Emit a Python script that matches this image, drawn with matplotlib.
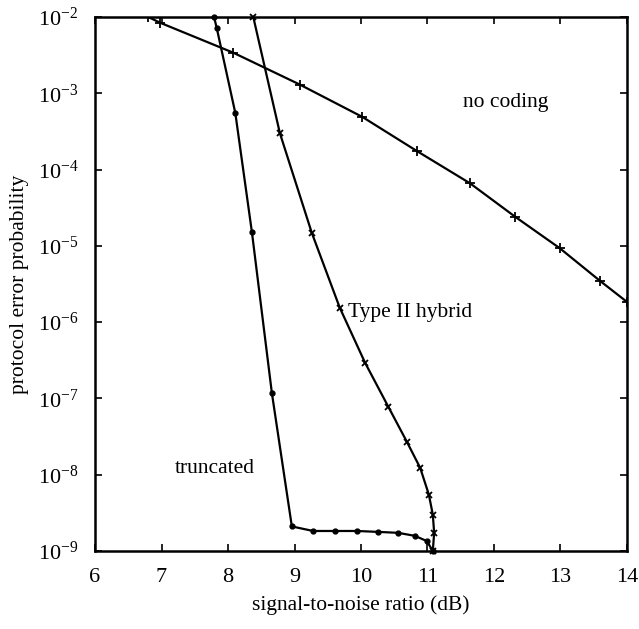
import matplotlib
matplotlib.use("Agg")
import matplotlib.pyplot as plt
from matplotlib.ticker import FixedLocator, FixedFormatter

plt.rcParams['font.family'] = ['Liberation Serif', 'DejaVu Serif']
plt.rcParams['mathtext.fontset'] = 'custom'
plt.rcParams['mathtext.rm'] = 'Liberation Serif'
plt.rcParams['mathtext.it'] = 'Liberation Serif'

# no coding (uncoded) curve
snr_nocode = [6.8, 6.98, 8.08, 9.08, 10.02, 10.84, 11.64, 12.32, 12.99, 13.59, 14.0]
p_nocode = [1.0e-2, 8.4e-3, 3.4e-3, 1.3e-3, 4.9e-4, 1.75e-4, 6.6e-5, 2.4e-5, 9.3e-6, 3.5e-6, 1.84e-6]

# truncated protocol
snr_trunc = [7.79, 7.83, 8.11, 8.36, 8.66, 8.96, 9.28, 9.61, 9.94, 10.26, 10.56, 10.81, 10.99, 11.08]
p_trunc = [1.0e-2, 7.2e-3, 5.5e-4, 1.5e-5, 1.17e-7, 2.1e-9, 1.83e-9, 1.83e-9, 1.83e-9,
           1.78e-9, 1.73e-9, 1.58e-9, 1.35e-9, 1.0e-9]

# Type II hybrid protocol
snr_hyb = [8.38, 8.78, 9.26, 9.68, 10.06, 10.41, 10.69, 10.89, 11.02, 11.08, 11.10, 11.08]
p_hyb = [1.0e-2, 3.0e-4, 1.48e-5, 1.55e-6, 2.95e-7, 7.8e-8, 2.7e-8, 1.23e-8, 5.5e-9,
         3.0e-9, 1.73e-9, 1.0e-9]

x_ticks = [6, 7, 8, 9, 10, 11, 12, 13, 14]
y_exps = [-2, -3, -4, -5, -6, -7, -8, -9]

fig = plt.figure(figsize=(6.39, 6.29), dpi=100)
ax = fig.add_axes([0.1487, 0.124, 0.8325, 0.849])

ax.plot(snr_nocode, p_nocode, color='black', lw=1.6, marker='+', ms=7, mew=1.3)
ax.plot(snr_trunc, p_trunc, color='black', lw=1.6, marker='o', ms=3.5, clip_on=False)
ax.plot(snr_hyb, p_hyb, color='black', lw=1.6, marker='x', ms=5, mew=1.3, clip_on=False)

ax.set_yscale('log')
ax.set_xlim(6, 14)
ax.set_ylim(1e-9, 1e-2)

ax.xaxis.set_major_locator(FixedLocator(x_ticks))
ax.set_xticklabels([str(t) for t in x_ticks])
ax.yaxis.set_major_locator(FixedLocator([10.0 ** e for e in y_exps]))
ax.yaxis.set_major_formatter(FixedFormatter([r'$10^{-%d}$' % -e for e in y_exps]))
ax.yaxis.set_minor_locator(FixedLocator([]))

ax.tick_params(direction='in', top=True, right=True, length=5, width=1.2, labelsize=16)
ax.tick_params(axis='x', pad=12)
ax.tick_params(axis='y', pad=12)
for s in ax.spines.values():
    s.set_linewidth(1.8)

ax.set_xlabel('signal-to-noise ratio (dB)', fontsize=15.5, labelpad=6)
ax.set_ylabel('protocol error probability', fontsize=15.5, labelpad=6)

ax.text(12.18, 7.6e-4, 'no coding', fontsize=15.5, ha='center', va='center')
ax.text(9.8, 1.35e-6, 'Type II hybrid', fontsize=15.5, ha='left', va='center')
ax.text(7.2, 1.2e-8, 'truncated', fontsize=15.5, ha='left', va='center')

fig.savefig('out.png', dpi=100)
